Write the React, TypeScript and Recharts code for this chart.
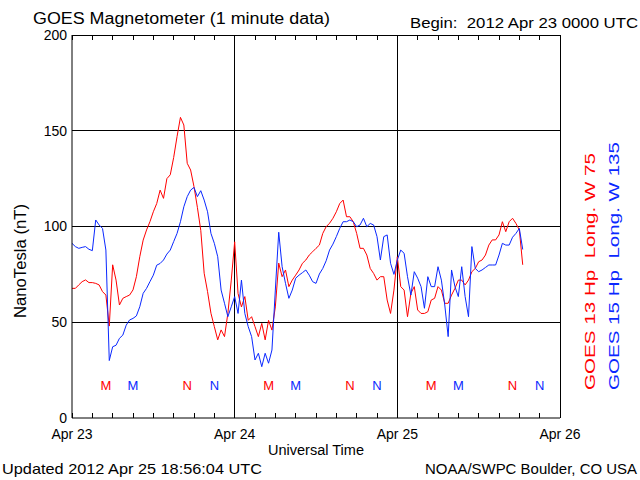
import {
  ComposedChart,
  Line,
  Scatter,
  XAxis,
  YAxis,
  ReferenceLine,
} from 'recharts';

// half-hour samples starting 2012 Apr 23 0000 UTC
const STEP_HOURS = 0.5;

const goes13Hp = [
  67.7, 67.7, 69.5, 71.2, 72.1, 70.7, 70.7, 70.3, 69.5, 66, 64.2, 48, 80, 72, 59, 62.5,
  63.4, 64.2, 66.9, 73.8, 84.2, 92.9, 98.2, 102.5, 107.7, 112, 119, 114.7, 125, 127, 136, 147,
  157, 153, 133, 129.5, 120.8, 110, 98, 75.6, 66, 54.7, 47.7, 40.8, 46, 42.5, 54.7, 72,
  92, 65, 58, 63.4, 51, 52.9, 47.7, 42.5, 49.4, 40.8, 51, 45.9, 58, 80.9, 73.8, 77.3,
  68.6, 72, 74.6, 77.3, 80.8, 82.5, 85.1, 86.8, 88.6, 90.3, 96.4, 99.9, 101.7, 104.3, 107.7, 112,
  113.8, 105.1, 105.1, 102.5, 96.4, 88.6, 88.6, 85.1, 78.1, 75.5, 72, 73.8, 73.8, 61.6, 54.6, 66.8,
  84.2, 68.6, 66.8, 52.9, 65.1, 68.6, 56.4, 54.6, 54.6, 55.5, 61.6, 62.5, 68.6, 66.8, 59.9, 59.9,
  64.2, 67.7, 72, 72, 69.5, 72, 76.4, 78.1, 81.6, 82.5, 85.1, 90.3, 93, 93, 95.6, 102.5,
  97.3, 102.5, 104.3, 101.6, 98.2, 80,
];

const goes15Hp = [
  91.2, 89.5, 88.6, 89.1, 89.5, 88.1, 87.4, 103.4, 100.8, 99, 87.7, 30, 37.2, 38, 41.6, 43.3,
  48.5, 51.2, 52, 53.3, 58.1, 65.1, 67.7, 71.2, 74.6, 79.8, 80.7, 82.5, 85.6, 87.7, 92.1, 96.4,
  102.5, 110.3, 115.6, 119, 120.4, 115.6, 118.7, 113.8, 107.7, 96.4, 91.2, 84.2, 66.8, 59.9, 52.9, 58.1,
  63.4, 54.6, 72, 54.6, 47.7, 42.5, 30.3, 33.8, 26.8, 33.8, 28.6, 35.5, 66.8, 97, 79, 70.3,
  62.5, 66.8, 73, 74.6, 75.9, 77.3, 74.6, 71.2, 70.3, 75.2, 78.1, 82.1, 87.7, 90.8, 94.7, 99,
  102.5, 102.5, 103.4, 102.5, 99.9, 100.8, 104.3, 99.9, 101.6, 100.8, 94.7, 82.5, 94.7, 95.6, 80.8, 75,
  82.5, 87.7, 86, 73.8, 64.2, 76.4, 73, 68.6, 57.3, 73.8, 68.6, 68.6, 79, 72, 59, 42.5,
  77.3, 68.6, 63.4, 79, 63.4, 52.9, 89.5, 78.1, 76.4, 77.3, 78.6, 79.9, 79.9, 79.9, 85.1, 91.2,
  90.3, 90.3, 94.4, 96.4, 99, 88,
];

// local midnight (M) / noon (N) for each satellite, hours from start
const markerHours = [5, 9, 17, 21, 29, 33, 41, 45, 53, 57, 65, 69];
const markerLetters = ['M', 'M', 'N', 'N', 'M', 'M', 'N', 'N', 'M', 'M', 'N', 'N'];
const markerSats = [13, 15, 13, 15, 13, 15, 13, 15, 13, 15, 13, 15];
const MARKER_LEVEL = 17;

const dayLabels = ['Apr 23', 'Apr 24', 'Apr 25', 'Apr 26'];
const hourTicks = [0, 3, 6, 9, 12, 15, 18, 21, 24, 27, 30, 33, 36, 39, 42, 45, 48, 51, 54, 57, 60, 63, 66, 69, 72];
const valueTicks = [0, 50, 100, 150, 200];

const RED = '#ff0000';
const BLUE = '#0a28ff';
const FONT = '"Liberation Sans", Arial, sans-serif';
const NBSP = '\u00a0';

const PLOT_TOP = 35;
const PLOT_BOTTOM = 418;

const data = goes13Hp.map((v, i) => ({
  t: i * STEP_HOURS,
  g13: v,
  g15: goes15Hp[i],
}));

const markers = markerHours.map((h, i) => ({
  t: h,
  v: MARKER_LEVEL,
  letter: markerLetters[i],
  color: markerSats[i] === 13 ? RED : BLUE,
}));

function TimeTick(props: any) {
  const { x, payload } = props;
  const h = payload.value as number;
  return (
    <g>
      <line x1={x} x2={x} y1={PLOT_BOTTOM} y2={PLOT_BOTTOM - 5} stroke="#000" shapeRendering="crispEdges" />
      <line x1={x} x2={x} y1={PLOT_TOP} y2={PLOT_TOP + 5} stroke="#000" shapeRendering="crispEdges" />
      {h % 24 === 0 && (
        <text x={x} y={PLOT_BOTTOM + 21} textAnchor="middle" fontSize={14} fontFamily={FONT} fill="#000">
          {dayLabels[h / 24]}
        </text>
      )}
    </g>
  );
}

function MarkerLetter(props: any) {
  const { cx, cy, payload } = props;
  return (
    <text x={cx} y={cy} dy={5} textAnchor="middle" fontSize={13} fontFamily={FONT} fill={payload.color}>
      {payload.letter}
    </text>
  );
}

export default function App() {
  return (
    <div style={{ position: 'absolute', left: 0, top: 0, width: 640, height: 480, background: '#fff' }}>
      <ComposedChart
        width={640}
        height={480}
        data={data}
        margin={{ top: PLOT_TOP, right: 80, bottom: 0, left: 0 }}
      >
        <XAxis
          dataKey="t"
          type="number"
          domain={[0, 72]}
          ticks={hourTicks}
          interval={0}
          height={62}
          tickLine={false}
          axisLine={{ stroke: '#000' }}
          tick={<TimeTick />}
        />
        <YAxis
          type="number"
          domain={[0, 200]}
          ticks={valueTicks}
          interval={0}
          width={72}
          tickSize={0}
          tickMargin={5}
          tickLine={false}
          axisLine={{ stroke: '#000' }}
          tick={{ fill: '#000', fontSize: 14, fontFamily: FONT }}
        />

        {/* grid and frame */}
        {[50, 100, 150, 200].map((v) => (
          <ReferenceLine key={`h${v}`} y={v} stroke="#000" shapeRendering="crispEdges" />
        ))}
        {[24, 48, 72].map((v) => (
          <ReferenceLine key={`v${v}`} x={v} stroke="#000" shapeRendering="crispEdges" />
        ))}

        <Line
          dataKey="g13"
          stroke={RED}
          strokeWidth={1}
          dot={false}
          type="linear"
          isAnimationActive={false}
        />
        <Line
          dataKey="g15"
          stroke={BLUE}
          strokeWidth={1}
          dot={false}
          type="linear"
          isAnimationActive={false}
        />
        <Scatter data={markers} dataKey="v" shape={<MarkerLetter />} isAnimationActive={false} />
      </ComposedChart>

      {/* titles and captions */}
      <svg
        width={640}
        height={480}
        style={{ position: 'absolute', left: 0, top: 0, pointerEvents: 'none' }}
        fontFamily={FONT}
      >
        <text x={33} y={24} fontSize={16} textLength={297} lengthAdjust="spacingAndGlyphs">
          GOES Magnetometer (1 minute data)
        </text>
        <text x={410} y={28} fontSize={14} textLength={228} lengthAdjust="spacingAndGlyphs">
          {`Begin:${NBSP}${NBSP}2012 Apr 23 0000 UTC`}
        </text>
        <text
          transform="translate(26 261) rotate(-90)"
          textAnchor="middle"
          fontSize={16}
          textLength={114}
          lengthAdjust="spacingAndGlyphs"
        >
          NanoTesla (nT)
        </text>
        <text x={316} y={455} textAnchor="middle" fontSize={14} textLength={96} lengthAdjust="spacingAndGlyphs">
          Universal Time
        </text>
        <text x={2} y={474} fontSize={15} textLength={260} lengthAdjust="spacingAndGlyphs">
          Updated 2012 Apr 25 18:56:04 UTC
        </text>
        <text x={425} y={474} fontSize={15} textLength={212} lengthAdjust="spacingAndGlyphs">
          NOAA/SWPC Boulder, CO USA
        </text>
        <text
          transform="translate(595 390) rotate(-90)"
          fontSize={15}
          fill={RED}
          textLength={237}
          lengthAdjust="spacingAndGlyphs"
        >
          {`GOES 13 Hp${NBSP}${NBSP}Long. W 75`}
        </text>
        <text
          transform="translate(619 390) rotate(-90)"
          fontSize={15}
          fill={BLUE}
          textLength={248}
          lengthAdjust="spacingAndGlyphs"
        >
          {`GOES 15 Hp${NBSP}${NBSP}Long. W 135`}
        </text>
      </svg>
    </div>
  );
}
